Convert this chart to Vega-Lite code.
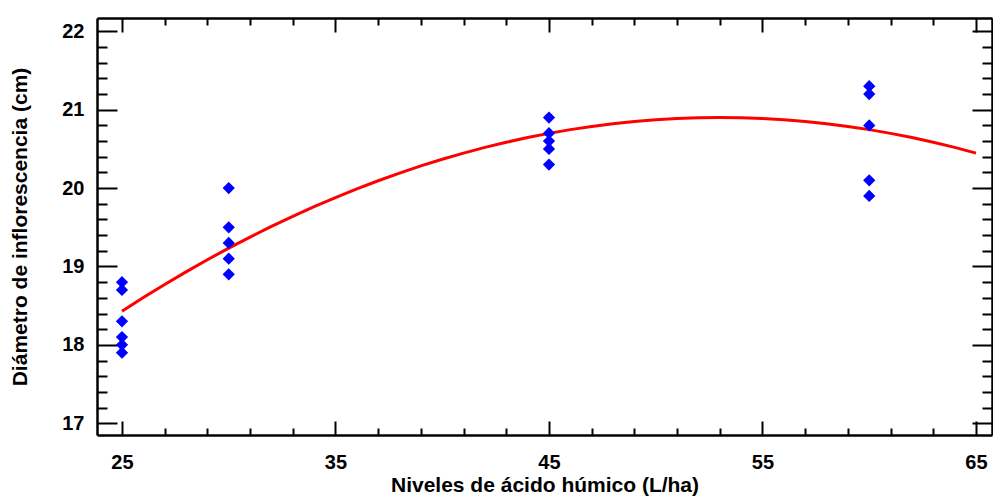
{
  "$schema": "https://vega.github.io/schema/vega-lite/v6.json",
  "autosize": "none",
  "width": 895,
  "height": 417,
  "padding": {"left": 97, "top": 18, "right": 1, "bottom": 61},
  "background": "white",
  "config": {"view": {"stroke": null}},
  "datasets": {
    "obs": [
      {"x": 25, "y": 18.8}, {"x": 25, "y": 18.7}, {"x": 25, "y": 18.3}, {"x": 25, "y": 18.1}, {"x": 25, "y": 18.0}, {"x": 25, "y": 17.9},
      {"x": 30, "y": 20.0}, {"x": 30, "y": 19.5}, {"x": 30, "y": 19.3}, {"x": 30, "y": 19.1}, {"x": 30, "y": 18.9},
      {"x": 45, "y": 20.9}, {"x": 45, "y": 20.7}, {"x": 45, "y": 20.6}, {"x": 45, "y": 20.5}, {"x": 45, "y": 20.3},
      {"x": 60, "y": 21.3}, {"x": 60, "y": 21.2}, {"x": 60, "y": 20.8}, {"x": 60, "y": 20.1}, {"x": 60, "y": 19.9}
    ],
    "fit": [
      {"x": 25, "y": 18.43}, {"x": 26, "y": 18.604}, {"x": 27, "y": 18.771}, {"x": 28, "y": 18.931}, {"x": 29, "y": 19.086},
      {"x": 30, "y": 19.234}, {"x": 31, "y": 19.375}, {"x": 32, "y": 19.511}, {"x": 33, "y": 19.64}, {"x": 34, "y": 19.763},
      {"x": 35, "y": 19.879}, {"x": 36, "y": 19.99}, {"x": 37, "y": 20.094}, {"x": 38, "y": 20.191}, {"x": 39, "y": 20.283},
      {"x": 40, "y": 20.368}, {"x": 41, "y": 20.446}, {"x": 42, "y": 20.519}, {"x": 43, "y": 20.585}, {"x": 44, "y": 20.645},
      {"x": 45, "y": 20.698}, {"x": 46, "y": 20.746}, {"x": 47, "y": 20.787}, {"x": 48, "y": 20.821}, {"x": 49, "y": 20.85},
      {"x": 50, "y": 20.872}, {"x": 51, "y": 20.887}, {"x": 52, "y": 20.897}, {"x": 53, "y": 20.9}, {"x": 54, "y": 20.897},
      {"x": 55, "y": 20.887}, {"x": 56, "y": 20.872}, {"x": 57, "y": 20.85}, {"x": 58, "y": 20.821}, {"x": 59, "y": 20.787},
      {"x": 60, "y": 20.746}, {"x": 61, "y": 20.698}, {"x": 62, "y": 20.645}, {"x": 63, "y": 20.585}, {"x": 64, "y": 20.519},
      {"x": 65, "y": 20.446}
    ]
  },
  "resolve": {"axis": {"x": "independent", "y": "independent"}},
  "layer": [
    {
      "data": {"name": "fit"},
      "mark": {"type": "line", "color": "#ff0000", "strokeWidth": 3, "interpolate": "linear"},
      "encoding": {
        "x": {
          "field": "x", "type": "quantitative",
          "scale": {"domain": [23.83, 65.75], "nice": false, "zero": false},
          "axis": {
            "orient": "bottom",
            "title": "Niveles de ácido húmico (L/ha)",
            "titleFont": "Liberation Sans", "titleFontSize": 21, "titleFontWeight": "bold", "titleColor": "#000000",
            "titlePadding": 2,
            "values": [25, 27, 29, 31, 33, 35, 37, 39, 41, 43, 45, 47, 49, 51, 53, 55, 57, 59, 61, 63, 65],
            "labelExpr": "(datum.value - 25) % 10 == 0 ? datum.label : ''",
            "labelFont": "Liberation Sans", "labelFontSize": 20, "labelFontWeight": "bold", "labelColor": "#000000",
            "labelPadding": 31,
            "labelFlush": false,
            "domainColor": "#000000", "domainWidth": 2.5,
            "tickColor": "#000000", "tickWidth": 2,
            "tickSize": {"condition": {"test": "(datum.value - 25) % 10 == 0", "value": -14}, "value": -7},
            "grid": false
          }
        },
        "y": {
          "field": "y", "type": "quantitative",
          "scale": {"domain": [16.85, 22.17], "nice": false, "zero": false},
          "axis": {
            "orient": "left",
            "title": "Diámetro de inflorescencia (cm)",
            "titleFont": "Liberation Sans", "titleFontSize": 21, "titleFontWeight": "bold", "titleColor": "#000000",
            "titlePadding": 31,
            "values": [17, 17.2, 17.4, 17.6, 17.8, 18, 18.2, 18.4, 18.6, 18.8, 19, 19.2, 19.4, 19.6, 19.8, 20, 20.2, 20.4, 20.6, 20.8, 21, 21.2, 21.4, 21.6, 21.8, 22],
            "labelExpr": "abs(datum.value - round(datum.value)) < 0.01 ? format(datum.value, 'd') : ''",
            "labelFont": "Liberation Sans", "labelFontSize": 20, "labelFontWeight": "bold", "labelColor": "#000000",
            "labelPadding": 33,
            "labelFlush": false,
            "domainColor": "#000000", "domainWidth": 2.5,
            "tickColor": "#000000", "tickWidth": 2,
            "tickSize": {"condition": {"test": "abs(datum.value - round(datum.value)) < 0.01", "value": -20}, "value": -10},
            "grid": false
          }
        }
      }
    },
    {
      "data": {"name": "obs"},
      "mark": {"type": "point", "shape": "diamond", "filled": true, "color": "#0000ff", "opacity": 1, "size": 150},
      "encoding": {
        "x": {
          "field": "x", "type": "quantitative",
          "axis": {
            "orient": "top", "title": null, "labels": false,
            "values": [25, 27, 29, 31, 33, 35, 37, 39, 41, 43, 45, 47, 49, 51, 53, 55, 57, 59, 61, 63, 65],
            "domainColor": "#000000", "domainWidth": 2.5,
            "tickColor": "#000000", "tickWidth": 2,
            "tickSize": {"condition": {"test": "(datum.value - 25) % 10 == 0", "value": -14}, "value": -7},
            "grid": false
          }
        },
        "y": {
          "field": "y", "type": "quantitative",
          "axis": {
            "orient": "right", "title": null, "labels": false,
            "values": [17, 17.2, 17.4, 17.6, 17.8, 18, 18.2, 18.4, 18.6, 18.8, 19, 19.2, 19.4, 19.6, 19.8, 20, 20.2, 20.4, 20.6, 20.8, 21, 21.2, 21.4, 21.6, 21.8, 22],
            "domainColor": "#000000", "domainWidth": 2.5,
            "tickColor": "#000000", "tickWidth": 2,
            "tickSize": {"condition": {"test": "abs(datum.value - round(datum.value)) < 0.01", "value": -20}, "value": -10},
            "grid": false
          }
        }
      }
    }
  ]
}
